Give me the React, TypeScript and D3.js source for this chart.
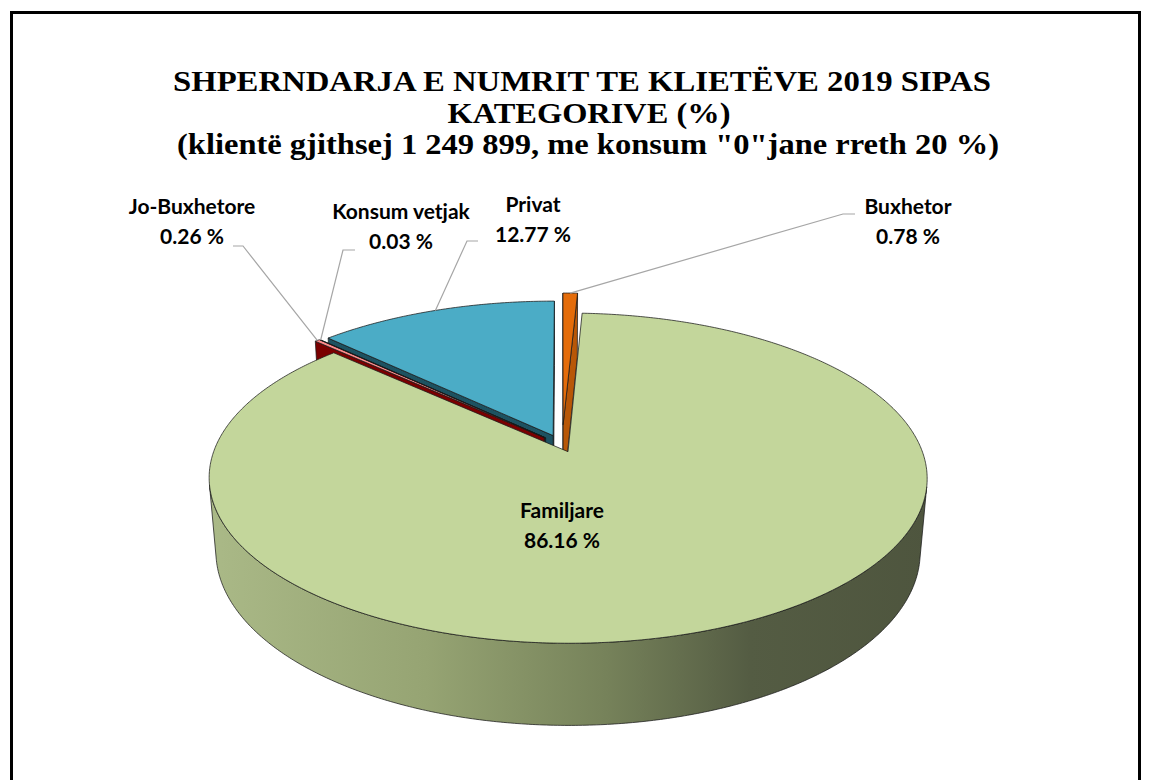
import React from 'react';
import * as d3 from 'd3';

// ---- data ----
const categories = ['Buxhetor', 'Familjare', 'Jo-Buxhetore', 'Konsum vetjak', 'Privat'];
const shares = [0.78, 86.16, 0.26, 0.03, 12.77];
const shareLabels = ['0.78 %', '86.16 %', '0.26 %', '0.03 %', '12.77 %'];
const titleLines = [
  'SHPERNDARJA E NUMRIT TE KLIETËVE 2019 SIPAS',
  'KATEGORIVE (%)',
  '(klientë gjithsej 1 249 899, me konsum "0"jane rreth 20 %)',
];

// ---- styling ----
const topColors = ['#e46c0a', '#c3d69b', '#ff8a8a', '#24454f', '#4bacc6'];
const faceColors = ['#b85707', '#8d9c66', '#7a0000', '#0f262d', '#1d5261'];
const explode = [0.13, 0.045, 0.07, 0.065, 0.065];

// label layout: centre x, first baseline, leader elbow and end
const labelLayout = [
  { x: 908, y: 214, ex: 843, ey: 214, lx: 855 },
  { x: 562, y: 518 },
  { x: 192, y: 214, ex: 243, ey: 246, lx: 233 },
  { x: 401, y: 219, ex: 343, ey: 250, lx: 355 },
  { x: 533, y: 212, ex: 467, ey: 241, lx: 478 },
];

const W = 1149;
const H = 780;
const view = { cx: 562, cy: 445, k: 352, tilt: (26.8 * Math.PI) / 180, dist: 5.6, depth: 0.235 };
const sn = Math.sin(view.tilt);
const cs = Math.cos(view.tilt);

// perspective projection of a point of the unit pie (y up, z toward viewer)
function proj(x: number, y: number, z: number): [number, number] {
  const yc = y * cs - z * sn;
  const zc = z * cs + y * sn;
  const f = view.dist / (view.dist - zc);
  return [view.cx + x * view.k * f, view.cy - yc * view.k * f];
}
function camDepth(x: number, y: number, z: number) {
  return z * cs + y * sn;
}

const STEP = Math.PI / 360;
function samples(a0: number, a1: number) {
  const n = Math.max(2, Math.ceil((a1 - a0) / STEP));
  return d3.range(n + 1).map((i) => a0 + ((a1 - a0) * i) / n);
}

const line = d3.line<[number, number]>();

export default function App() {
  const arcs = d3.pie<number>().sort(null).value((d) => d)(shares);
  const camZ = view.dist * cs;

  const sides: { d: string; fill: string; z: number; key: string }[] = [];
  const tops: { d: string; fill: string; z: number; key: string }[] = [];

  const geo = arcs.map((a, i) => {
    const mid = (a.startAngle + a.endAngle) / 2;
    const ox = explode[i] * Math.sin(mid);
    const oz = -explode[i] * Math.cos(mid);
    const rim = (t: number, y: number) => proj(ox + Math.sin(t), y, oz - Math.cos(t));
    const apexT = proj(ox, 0, oz);
    const apexB = proj(ox, -view.depth, oz);
    const ts = samples(a.startAngle, a.endAngle);

    // top face
    tops.push({
      key: 'top' + i,
      d: line([apexT, ...ts.map((t) => rim(t, 0))]) + 'Z',
      fill: topColors[i],
      z: camDepth(ox, 0, oz),
    });

    // outer curved side, only the part facing the camera
    const vis = ts.filter((t) => -ox * Math.sin(t) - 1 - (camZ - oz) * Math.cos(t) > 0);
    if (vis.length > 1) {
      const upper = vis.map((t) => rim(t, 0));
      const lower = vis.map((t) => rim(t, -view.depth)).reverse();
      const tm = vis[Math.floor(vis.length / 2)];
      sides.push({
        key: 'out' + i,
        d: line([...upper, ...lower]) + 'Z',
        fill: i === 1 ? 'url(#sideGrad)' : faceColors[i],
        z: camDepth(ox + Math.sin(tm), -view.depth / 2, oz - Math.cos(tm)),
      });
    }

    // radial cut faces
    const a0 = a.startAngle;
    const a1 = a.endAngle;
    const faces: [number, boolean][] = [
      [a0, ox * Math.cos(a0) - (camZ - oz) * Math.sin(a0) > 0],
      [a1, -ox * Math.cos(a1) + (camZ - oz) * Math.sin(a1) > 0],
    ];
    faces.forEach(([t, ok], j) => {
      if (!ok) return;
      sides.push({
        key: 'rad' + i + '_' + j,
        d: line([apexT, rim(t, 0), rim(t, -view.depth), apexB]) + 'Z',
        fill: faceColors[i],
        z: camDepth(ox + Math.sin(t) / 2, -view.depth / 2, oz - Math.cos(t) / 2),
      });
    });

    return { mid, rimMid: rim(mid, 0) };
  });

  sides.sort((p, q) => p.z - q.z);
  tops.sort((p, q) => p.z - q.z);

  const labelFont = { fontFamily: 'Lato, "Open Sans", sans-serif', fontWeight: 700, fontSize: 21 };

  return (
    <svg
      width={W}
      height={H}
      style={{ position: 'absolute', left: 0, top: 0, background: '#fff' }}
    >
      <defs>
        <linearGradient id="sideGrad" gradientUnits="userSpaceOnUse" x1={210} x2={930} y1={0} y2={0}>
          <stop offset="0" stopColor="#aab987" />
          <stop offset="0.3" stopColor="#96a473" />
          <stop offset="0.55" stopColor="#76825a" />
          <stop offset="0.75" stopColor="#545c43" />
          <stop offset="1" stopColor="#4e553e" />
        </linearGradient>
      </defs>

      <rect x={11.5} y={12.5} width={1128} height={800} fill="none" stroke="#000" strokeWidth={3} />

      <g fontFamily='"Liberation Serif", "Times New Roman", serif' fontWeight={700} fontSize={30} textAnchor="middle">
        <text x={582} y={91} textLength={818} lengthAdjust="spacingAndGlyphs">{titleLines[0]}</text>
        <text x={589} y={123} textLength={283} lengthAdjust="spacingAndGlyphs">{titleLines[1]}</text>
        <text x={588} y={154} textLength={822} lengthAdjust="spacingAndGlyphs">{titleLines[2]}</text>
      </g>

      <g stroke="#1a1a1a" strokeOpacity={0.75} strokeWidth={1} strokeLinejoin="round">
        {sides.map((s) => (
          <path key={s.key} d={s.d} fill={s.fill} />
        ))}
        {tops.map((s) => (
          <path key={s.key} d={s.d} fill={s.fill} />
        ))}
      </g>

      <g fill="none" stroke="#a6a6a6" strokeWidth={1.2}>
        {labelLayout.map((l, i) =>
          l.ex === undefined ? null : (
            <path key={'lead' + i} d={line([geo[i].rimMid, [l.ex, l.ey!], [l.lx!, l.ey!]]) || ''} />
          )
        )}
      </g>

      <g {...labelFont} textAnchor="middle" fill="#000">
        {labelLayout.map((l, i) => (
          <text key={'lab' + i} x={l.x} y={l.y}>
            <tspan x={l.x}>{categories[i]}</tspan>
            <tspan x={l.x} dy={30}>{shareLabels[i]}</tspan>
          </text>
        ))}
      </g>
    </svg>
  );
}
